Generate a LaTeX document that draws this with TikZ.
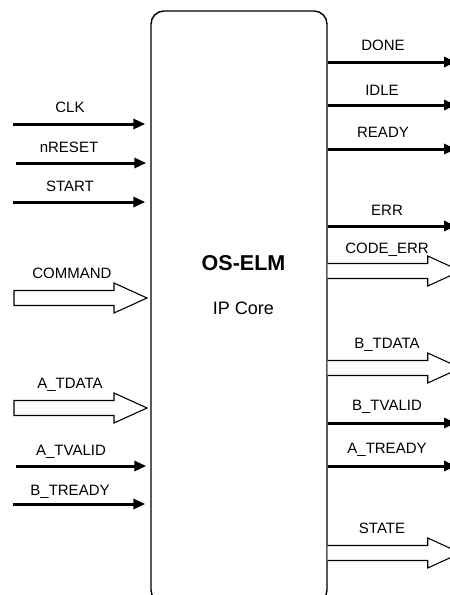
\documentclass[tikz,border=0pt]{standalone}
\usepackage{fontspec}
\setmainfont{Liberation Sans}
\usetikzlibrary{arrows.meta,calc}

\begin{document}
\begin{tikzpicture}[x=1pt,y=-1pt,
  sig/.style={line width=3pt,-{Triangle[length=12pt,width=10pt]}},
  bus/.style={line width=1.1pt,fill=white,line join=miter},
  lbl/.style={anchor=base,inner sep=0pt,font=\fontsize{15}{18}\selectfont},
  corebox/.style={draw,line width=1.4pt,rounded corners=13pt,inner sep=0pt,
    minimum width=176pt,minimum height=592pt}]
\useasboundingbox (0,0) rectangle (450,595);

% IP core block
\node[corebox] (core) at (239,307) {};
\node[font=\bfseries\fontsize{21.5}{24}\selectfont] (title) at (243.5,263) {OS-ELM};
\node[font=\fontsize{18}{21}\selectfont] (sub) at (243.5,308) {IP Core};

% ---- inputs ----
\coordinate (clkS)   at (13,124);
\coordinate (rstS)   at (16,163);
\coordinate (startS) at (13,202);
\coordinate (cmdS)   at (14,298);
\coordinate (adatS)  at (14,408);
\coordinate (avalS)  at (16,466);
\coordinate (brdyS)  at (13,504);

\draw[sig] (clkS)   -- ([xshift=-5pt]clkS -| core.west);
\draw[sig] (rstS)   -- ([xshift=-4pt]rstS -| core.west);
\draw[sig] (startS) -- ([xshift=-5pt]startS -| core.west);
\draw[sig] (avalS)  -- ([xshift=-4pt]avalS -| core.west);
\draw[sig] (brdyS)  -- ([xshift=-5pt]brdyS -| core.west);

\draw[bus] (cmdS) ++(0,-7.5) -- ++(100,0) -- ++(0,-7.5) -- ++(33,15)
  -- ++(-33,15) -- ++(0,-7.5) -- ++(-100,0) -- cycle;
\draw[bus] (adatS) ++(0,-7.5) -- ++(100,0) -- ++(0,-7.5) -- ++(33,15)
  -- ++(-33,15) -- ++(0,-7.5) -- ++(-100,0) -- cycle;

\node[lbl] (lclk)   at (70,112.4) {CLK};
\node[lbl] (lrst)   at (69,152.4) {nRESET};
\node[lbl] (lstart) at (70,191.4) {START};
\node[lbl] (lcmd)   at (72,278.4) {COMMAND};
\node[lbl] (ladat)  at (70,388.4) {A\_TDATA};
\node[lbl] (laval)  at (71,455.4) {A\_TVALID};
\node[lbl] (lbrdy)  at (70,495.4) {B\_TREADY};

% ---- outputs ----
\coordinate (doneE) at (456,62);
\coordinate (idleE) at (456,105);
\coordinate (rdyE)  at (456,149);
\coordinate (errE)  at (456,226);
\coordinate (bvalE) at (456,423);
\coordinate (ardyE) at (456,466);
\coordinate (cerrY) at (0,271);
\coordinate (bdatY) at (0,368);
\coordinate (stY)   at (0,553);

\draw[sig] (doneE -| core.east) -- (doneE);
\draw[sig] (idleE -| core.east) -- (idleE);
\draw[sig] (rdyE -| core.east)  -- (rdyE);
\draw[sig] (errE -| core.east)  -- (errE);
\draw[sig] (bvalE -| core.east) -- (bvalE);
\draw[sig] (ardyE -| core.east) -- (ardyE);

\draw[bus] (cerrY -| core.east) ++(0,-7.5) -- ++(100,0) -- ++(0,-7.5) -- ++(33,15)
  -- ++(-33,15) -- ++(0,-7.5) -- ++(-100,0);
\draw[bus] (bdatY -| core.east) ++(0,-7.5) -- ++(100,0) -- ++(0,-7.5) -- ++(33,15)
  -- ++(-33,15) -- ++(0,-7.5) -- ++(-100,0);
\draw[bus] (stY -| core.east) ++(0,-7.5) -- ++(100,0) -- ++(0,-7.5) -- ++(33,15)
  -- ++(-33,15) -- ++(0,-7.5) -- ++(-100,0);

\node[lbl] (ldone) at (383,50.4)  {DONE};
\node[lbl] (lidle) at (382,95.4)  {IDLE};
\node[lbl] (lrdy)  at (383,137.4) {READY};
\node[lbl] (lerr)  at (387,215.4) {ERR};
\node[lbl] (lcerr) at (387,253.4) {CODE\_ERR};
\node[lbl] (lbdat) at (387,348.4) {B\_TDATA};
\node[lbl] (lbval) at (387,410.4) {B\_TVALID};
\node[lbl] (lardy) at (387,453.4) {A\_TREADY};
\node[lbl] (lst)   at (382,533.4) {STATE};
\end{tikzpicture}
\end{document}
